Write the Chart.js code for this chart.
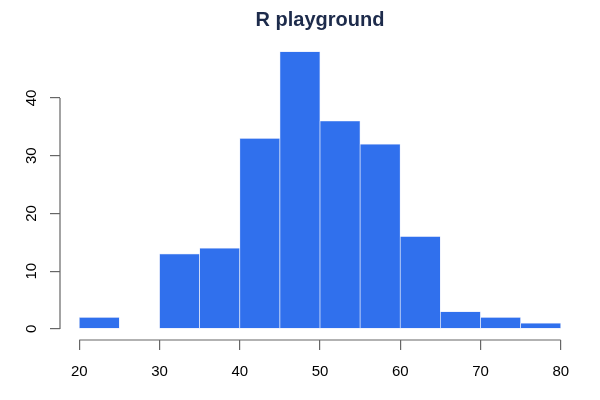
<!DOCTYPE html>
<html>
<head>
<meta charset="utf-8">
<script src="https://cdn.jsdelivr.net/npm/chart.js@4/dist/chart.umd.min.js"></script>
<style>
html,body{margin:0;padding:0;background:#fff;}
#wrap{width:600px;height:400px;}
</style>
</head>
<body>
<div id="wrap"><canvas id="c" width="600" height="400"></canvas></div>
<script>
// Histogram data
const breaks = [20, 25, 30, 35, 40, 45, 50, 55, 60, 65, 70, 75, 80];
const counts = [2, 0, 13, 14, 33, 48, 36, 32, 16, 3, 2, 1];
const xTicks = [20, 30, 40, 50, 60, 70, 80];
const yTicks = [0, 10, 20, 30, 40];
const titleText = 'R playground';

const points = counts.map((c, i) => ({x: (breaks[i] + breaks[i + 1]) / 2, y: c}));

const xLo = breaks[0], xHi = breaks[breaks.length - 1];
const xPad = (xHi - xLo) * 0.04;
const yHi = Math.max(...counts);
const yPad = yHi * 0.04;

const axisLines = {
  id: 'axisLines',
  afterDraw(chart) {
    const ctx = chart.ctx;
    const xs = chart.scales.x, ys = chart.scales.y;
    const ca = chart.chartArea;
    ctx.save();
    ctx.strokeStyle = '#666';
    ctx.lineWidth = 1.2;
    ctx.beginPath();
    ctx.moveTo(xs.getPixelForValue(xTicks[0]), ca.bottom);
    ctx.lineTo(xs.getPixelForValue(xTicks[xTicks.length - 1]), ca.bottom);
    ctx.moveTo(ca.left, ys.getPixelForValue(yTicks[0]));
    ctx.lineTo(ca.left, ys.getPixelForValue(yTicks[yTicks.length - 1]));
    ctx.stroke();
    ctx.restore();
  }
};

new Chart(document.getElementById('c'), {
  type: 'bar',
  data: {
    datasets: [{
      data: points,
      backgroundColor: '#3070ed',
      borderColor: '#e2e9fb',
      borderWidth: 0.7,
      borderSkipped: false,
      barPercentage: 1,
      categoryPercentage: 1
    }]
  },
  options: {
    responsive: false,
    animation: false,
    devicePixelRatio: 1,
    layout: {padding: {right: 20, left: 0, bottom: 0, top: 0}},
    plugins: {
      legend: {display: false},
      tooltip: {enabled: false},
      title: {
        display: true,
        text: titleText,
        fullSize: false,
        color: '#1d2b4b',
        font: {family: 'Liberation Sans, Arial, sans-serif', size: 20, weight: 'bold'},
        padding: {top: 8.5, bottom: 8.1}
      }
    },
    scales: {
      x: {
        type: 'linear',
        min: xLo - xPad,
        max: xHi + xPad,
        offset: false,
        afterBuildTicks: s => { s.ticks = xTicks.map(v => ({value: v})); },
        afterFit: s => { s.height = 60; },
        grid: {drawOnChartArea: false, drawTicks: true, tickLength: 10, color: '#666', lineWidth: 1.2, offset: false},
        border: {display: false},
        ticks: {color: '#000', font: {family: 'Liberation Sans, Arial, sans-serif', size: 15}, padding: 13, maxRotation: 0, autoSkip: false}
      },
      y: {
        type: 'linear',
        min: -yPad,
        max: yHi + yPad,
        afterBuildTicks: s => { s.ticks = yTicks.map(v => ({value: v})); },
        afterFit: s => { s.width = 60; },
        grid: {drawOnChartArea: false, drawTicks: true, tickLength: 10, color: '#666', lineWidth: 1.2},
        border: {display: false},
        ticks: {color: '#000', font: {family: 'Liberation Sans, Arial, sans-serif', size: 15}, padding: 10, minRotation: 90, maxRotation: 90, crossAlign: 'center', autoSkip: false}
      }
    }
  },
  plugins: [axisLines]
});
</script>
</body>
</html>
